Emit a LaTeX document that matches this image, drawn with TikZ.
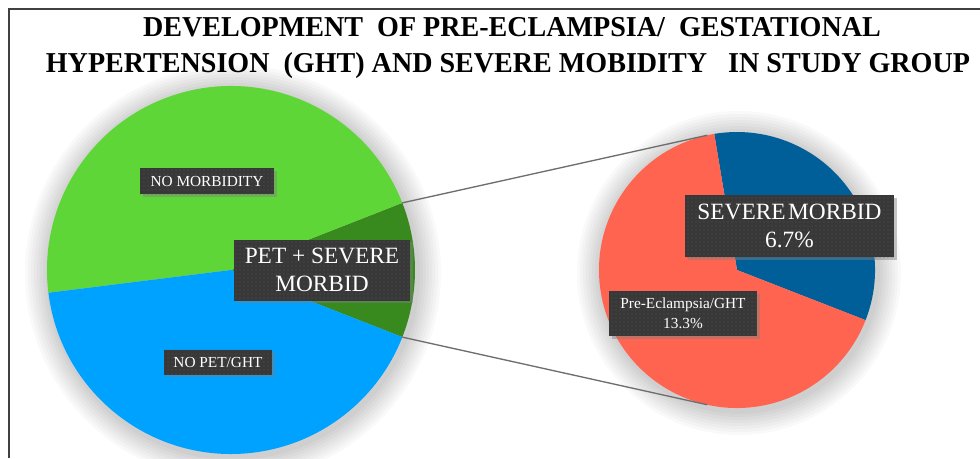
\documentclass[tikz,border=0pt]{standalone}
\usepackage{fontspec}
\setmainfont{Liberation Serif}
\usetikzlibrary{shadows,patterns}

\definecolor{ltgreen}{HTML}{5ED637}
\definecolor{dkgreen}{HTML}{388A1F}
\definecolor{ltblue}{HTML}{00A2FF}
\definecolor{dkblue}{HTML}{005F99}
\definecolor{salmon}{HTML}{FF6450}
\definecolor{lblgray}{HTML}{383838}
\definecolor{lbldot}{HTML}{565656}
\definecolor{zoomline}{HTML}{6E6E6E}

\tikzset{
  lbl/.style={drop shadow={shadow xshift=2pt,shadow yshift=-2pt,opacity=0.45},
    preaction={fill=lblgray}, pattern=dots, pattern color=lbldot,
    text=white, align=center, inner sep=0pt},
  smalllbl/.style={lbl, font=\fontsize{11.5}{15}\selectfont},
  biglbl/.style={lbl, font=\fontsize{17.5}{21}\selectfont},
  ttl/.style={anchor=base, inner sep=0pt, font=\fontsize{21.6}{26}\selectfont\bfseries},
  pieshadow/.style={black, opacity=0.022}
}

\begin{document}
\begin{tikzpicture}[x=0.75pt,y=0.75pt]
	\useasboundingbox (0,0) rectangle (980,458);
	\fill[white] (0,0) rectangle (980,458);
	\draw[line width=1.5pt, black!75] (9,0) -- (9,449) -- (980,449);
	\node[ttl] (ttl1) at (512,421) {\scalebox{0.975}[1]{DEVELOPMENT\ \ OF PRE-ECLAMPSIA/\ \ GESTATIONAL}};
	\node[ttl] (ttl2) at (508,386) {\scalebox{0.975}[1]{HYPERTENSION\ \ (GHT) AND SEVERE MOBIDITY\ \ \ IN STUDY GROUP}};
	\coordinate (lpc) at (231,188);
	\coordinate (rpc) at (737,188);
	\foreach \k in {1,...,8} {
		\fill[pieshadow] ([shift={(2,-3)}]lpc) circle[radius=184+3*\k];
		\fill[pieshadow] ([shift={(2,-3)}]rpc) circle[radius=138+3*\k];
	}
	\fill[dkgreen] (lpc) -- ([shift={(lpc)}]-21.4:184) arc[start angle=-21.4, end angle=21.4, radius=184] -- cycle;
	\fill[ltgreen] (lpc) -- ([shift={(lpc)}]21.4:184) arc[start angle=21.4, end angle=187.1, radius=184] -- cycle;
	\fill[ltblue] (lpc) -- ([shift={(lpc)}]187.1:184) arc[start angle=187.1, end angle=338.6, radius=184] -- cycle;
	\fill[dkblue] (rpc) -- ([shift={(rpc)}]-21.3:138) arc[start angle=-21.3, end angle=99.5, radius=138] -- cycle;
	\fill[salmon] (rpc) -- ([shift={(rpc)}]99.5:138) arc[start angle=99.5, end angle=338.7, radius=138] -- cycle;
	\coordinate (lt) at ([shift={(lpc)}]21.4:184);
	\coordinate (lb) at ([shift={(lpc)}]-21.4:184);
	\coordinate (rt) at ([shift={(rpc)}]102.5:138);
	\coordinate (rb) at ([shift={(rpc)}]257.5:138);
	\draw[zoomline, line width=1pt] (lt) -- (rt);
	\draw[zoomline, line width=1pt] (lb) -- (rb);
	\node[smalllbl, minimum width=100.5pt, minimum height=19.5pt] (nomorb) at (207,277) {NO MORBIDITY};
	\node[smalllbl, minimum width=81pt, minimum height=18.75pt] (nopet) at (218,96) {NO PET/GHT};
	\node[biglbl, minimum width=132pt, minimum height=45.75pt] (petsev) at (322,188) {PET + SEVERE\\MORBID};
	\node[biglbl, minimum width=156.75pt, minimum height=46.5pt] (sevmorb) at (789.5,232) {SEVERE\hspace{2pt}MORBID\\6.7\%};
	\node[smalllbl, minimum width=111pt, minimum height=33.75pt] (preecl) at (683,144.5) {Pre-Eclampsia/GHT\\13.3\%};
\end{tikzpicture}
\end{document}
